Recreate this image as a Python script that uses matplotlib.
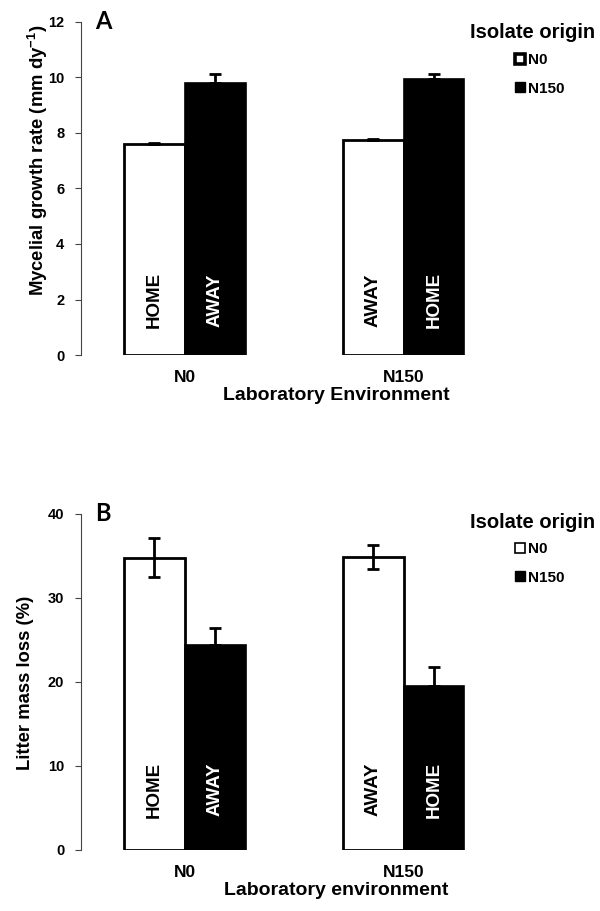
import numpy as np
import matplotlib
matplotlib.use('Agg')
import matplotlib.pyplot as plt
from matplotlib.lines import Line2D
import matplotlib.transforms as mtransforms

plt.rcParams['font.family'] = ['Liberation Sans', 'DejaVu Sans']
plt.rcParams['font.weight'] = 'bold'
plt.rcParams['mathtext.default'] = 'regular'

# Datos
entornos = ['N0', 'N150']
origenes = ['N0', 'N150']

# Panel A: tasa de crecimiento micelial
crec_n0 = [7.6, 7.75]
crec_n0_err = [0.05, 0.04]
crec_n150 = [9.81, 9.96]
crec_n150_err = [0.3, 0.18]

# Panel B: perdida de masa
masa_n0 = [34.8, 34.9]
masa_n0_err = [2.3, 1.4]
masa_n150 = [24.45, 19.55]
masa_n150_err = [2.0, 2.25]

etiq_blanco = ['HOME', 'AWAY']
etiq_negro = ['AWAY', 'HOME']

fig = plt.figure(figsize=(6, 9.11), dpi=100)
axA = fig.add_axes([0.135, 0.6103, 0.72, 0.3656])
axB = fig.add_axes([0.135, 0.0670, 0.72, 0.3688])

x = np.arange(len(entornos))
w = 0.278


def panel(ax, blanco, blanco_err, negro, negro_err, ymax, paso, letra,
          xlabel, y_texto, mew_leg, upper_only, y_titulo, y_leyenda):
    ax.bar(x - w / 2, blanco, w, color='white', edgecolor='black', linewidth=2.0)
    ax.bar(x + w / 2, negro, w, color='black', edgecolor='black', linewidth=1.2)
    if upper_only:
        eb = [np.zeros(len(blanco_err)), blanco_err]
    else:
        eb = blanco_err
    ax.errorbar(x - w / 2, blanco, yerr=eb, fmt='none', ecolor='black',
                elinewidth=2, capsize=4, capthick=2)
    ax.errorbar(x + w / 2, negro, yerr=[np.zeros(len(negro_err)), negro_err],
                fmt='none', ecolor='black', elinewidth=2, capsize=4, capthick=2)

    ax.set_xlim(-0.475, 1.5)
    ax.set_ylim(0, ymax)
    ax.set_yticks(np.arange(0, ymax + 0.1, paso))
    ax.set_xticks(x)
    ax.set_xticklabels(entornos, fontsize=12.5, fontweight='bold')
    ax.tick_params(axis='x', length=0, pad=11)
    ax.tick_params(axis='y', direction='out', length=4, width=0.8,
                   labelsize=10.5, pad=8, color='#444444')
    for s in ['top', 'right', 'bottom']:
        ax.spines[s].set_visible(False)
    ax.spines['left'].set_color('#444444')
    ax.spines['left'].set_linewidth(0.8)

    ax.set_xlabel(xlabel, fontsize=14, fontweight='bold')
    ax.xaxis.set_label_coords(0.59, -0.095)

    trans = mtransforms.blended_transform_factory(ax.transData, ax.transAxes)
    for i in range(len(entornos)):
        ax.text(x[i] - w / 2, y_texto, etiq_blanco[i], rotation=90, ha='center',
                va='center', fontsize=13.5, fontweight='bold', color='black',
                transform=trans)
        ax.text(x[i] + w / 2, y_texto, etiq_negro[i], rotation=90, ha='center',
                va='center', fontsize=13.5, fontweight='bold', color='white',
                transform=trans)

    ax.text(0.032, 1.0, letra, transform=ax.transAxes, fontsize=17,
            fontweight='bold', family=['Lato', 'DejaVu Sans'], va='center')

    fig.text(595 / 600, 1 - y_titulo / 911, 'Isolate origin', ha='right',
             va='center', fontsize=14.5, fontweight='bold')
    handles = [
        Line2D([], [], linestyle='none', marker='s', markersize=7.5,
               markerfacecolor='white', markeredgecolor='black',
               markeredgewidth=mew_leg, label=origenes[0]),
        Line2D([], [], linestyle='none', marker='s', markersize=7.5,
               markerfacecolor='black', markeredgecolor='black',
               label=origenes[1]),
    ]
    ax.legend(handles=handles, frameon=False, loc='upper left',
              bbox_to_anchor=(512 / 600, 1 - y_leyenda / 911),
              bbox_transform=fig.transFigure,
              prop={'size': 11, 'weight': 'bold'},
              handletextpad=0.05, handlelength=1.0, labelspacing=0.95,
              borderaxespad=0, borderpad=0)
    return ax


panel(axA, crec_n0, crec_n0_err, crec_n150, crec_n150_err, 12, 2, 'A',
      'Laboratory Environment', 0.165, 2.6, True, 33, 53)
panel(axB, masa_n0, masa_n0_err, masa_n150, masa_n150_err, 40, 10, 'B',
      'Laboratory environment', 0.18, 1.2, False, 523, 542)

fig.text(0.063, 1 - 160 / 911, 'Mycelial growth rate (mm dy$^{-1}$)', rotation=90,
         ha='center', va='center', fontsize=13.3, fontweight='bold')
fig.text(0.042, 1 - 683 / 911, 'Litter mass loss (%)', rotation=90,
         ha='center', va='center', fontsize=13.3, fontweight='bold')

fig.savefig('out.png', dpi=100)
